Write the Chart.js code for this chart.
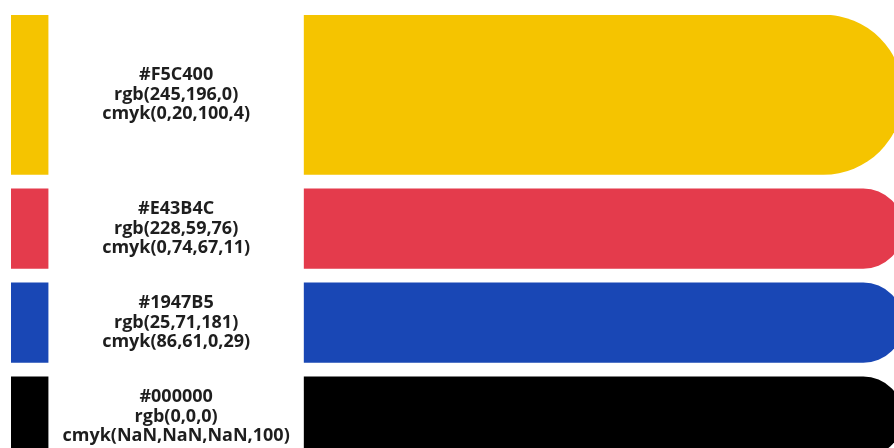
<!DOCTYPE html>
<html>
<head>
<meta charset="utf-8">
<script src="https://cdn.jsdelivr.net/npm/chart.js@4/dist/chart.umd.min.js"></script>
<style>
  html, body { margin: 0; padding: 0; background: #ffffff; }
  #wrap { width: 894px; height: 448px; }
</style>
</head>
<body>
<div id="wrap"><canvas id="c" width="894" height="448"></canvas></div>
<script>
// ---- data ----
const hexLabels  = ['#F5C400', '#E43B4C', '#1947B5', '#000000'];
const rgbLabels  = ['rgb(245,196,0)', 'rgb(228,59,76)', 'rgb(25,71,181)', 'rgb(0,0,0)'];
const cmykLabels = ['cmyk(0,20,100,4)', 'cmyk(0,74,67,11)', 'cmyk(86,61,0,29)', 'cmyk(NaN,NaN,NaN,100)'];
const rowWeights = [2, 1, 1, 1];
const swatchStart = [0, 0, 0, 0];
const swatchEnd   = [4.2, 4.2, 4.2, 4.2];
const barStart    = [33.2, 33.2, 33.2, 33.2];
const barEnd      = [101, 101, 101, 101];

// ---- layout settings ----
const PAD_TOP = 15, PAD_LEFT = 11;
const CANVAS_H = 448;
const ROW_GAP = 0.18;          // gap between rows, in y units
const Y_MAX = 5.433;
const unitPx = (CANVAS_H - PAD_TOP) / Y_MAX;

// row centres along the (linear) y scale, from cumulative weights
const rowCenters = [];
let acc = 0;
rowWeights.forEach((w, i) => {
  rowCenters.push(acc + w / 2);
  acc += w + ROW_GAP;
});

const datasets = hexLabels.map((hex, i) => ({
  label: hex,
  data: [
    { x: [swatchStart[i], swatchEnd[i]], y: rowCenters[i] },
    { x: [barStart[i], barEnd[i]], y: rowCenters[i] }
  ],
  backgroundColor: hex,
  borderWidth: 0,
  borderSkipped: 'left',
  borderRadius: (ctx) => (ctx.dataIndex === 1 ? 1000 : 0),
  barThickness: rowWeights[i] * unitPx
}));

const labelPlugin = {
  id: 'colorLabels',
  afterDatasetsDraw(chart) {
    const ctx = chart.ctx;
    const xs = chart.scales.x;
    ctx.save();
    ctx.font = 'bold 18px "Open Sans"';
    ctx.fillStyle = '#1e1e1e';
    ctx.textAlign = 'center';
    ctx.textBaseline = 'middle';
    const lh = 19.5;
    hexLabels.forEach((hex, i) => {
      const el = chart.getDatasetMeta(i).data[0];
      const cx = xs.getPixelForValue((swatchEnd[i] + barStart[i]) / 2);
      const cy = el.y;
      ctx.fillText(hexLabels[i], cx, cy - lh);
      ctx.fillText(rgbLabels[i], cx, cy);
      ctx.fillText(cmykLabels[i], cx, cy + lh);
    });
    ctx.restore();
  }
};

new Chart(document.getElementById('c'), {
  type: 'bar',
  data: { datasets },
  options: {
    indexAxis: 'y',
    responsive: false,
    animation: false,
    devicePixelRatio: 1,
    layout: { padding: { top: PAD_TOP, left: PAD_LEFT, right: 0, bottom: 0 } },
    scales: {
      x: { type: 'linear', min: 0, max: 100, display: false, stacked: false, offset: false },
      y: { type: 'linear', min: 0, max: Y_MAX, reverse: true, display: false, stacked: true, offset: false, grid: { offset: false } }
    },
    plugins: {
      legend: { display: false },
      tooltip: { enabled: false }
    },
    events: []
  },
  plugins: [labelPlugin]
});
</script>
</body>
</html>
